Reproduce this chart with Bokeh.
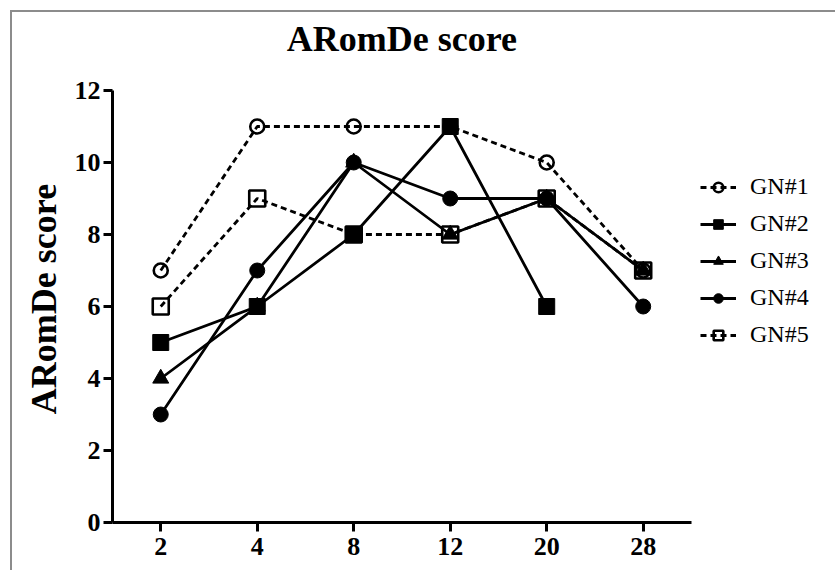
from bokeh.plotting import figure
from bokeh.models import Range1d, Legend, LegendItem, FixedTicker, Label
from bokeh.embed import file_html
from bokeh.resources import INLINE

days = ["2", "4", "8", "12", "20", "28"]
gn1 = [7, 11, 11, 11, 10, 7]
gn2 = [5, 6, 8, 11, 6, float("nan")]
gn3 = [4, 6, 10, 8, 9, 7]
gn4 = [3, 7, 10, 9, 9, 6]
gn5 = [6, 9, 8, 8, 9, 7]
y_ticks = [0, 2, 4, 6, 8, 10, 12]
title_text = "ARomDe score"
y_label = "ARomDe score"

FONT = "Liberation Serif"
xpos = list(range(len(days)))

p = figure(width=825, height=560, x_range=Range1d(-0.5, 6.91),
           y_range=Range1d(0, 14.1667), output_backend="svg", toolbar_location=None,
           min_border_left=100, min_border_top=0, min_border_right=10, min_border_bottom=50)
p.margin = (10, 0, 0, 10)
p.styles = {"border-top": "2px solid #8c8c8c", "border-left": "2px solid #8c8c8c"}

p.outline_line_color = None
p.xgrid.visible = False
p.ygrid.visible = False

for ax in (p.xaxis[0], p.yaxis[0]):
    ax.axis_line_width = 3
    ax.axis_line_color = "black"
    ax.major_tick_line_width = 3
    ax.major_tick_out = 9
    ax.major_tick_in = 0
    ax.minor_tick_line_color = None
    ax.major_label_text_font = FONT
    ax.major_label_text_font_style = "bold"
    ax.major_label_text_font_size = "26px"
    ax.major_label_text_color = "black"

p.xaxis[0].bounds = (-0.5, 5.5)
p.xaxis[0].ticker = FixedTicker(ticks=xpos)
p.xaxis[0].major_label_overrides = {i: d for i, d in zip(xpos, days)}
p.xaxis[0].major_label_standoff = 6

p.yaxis[0].bounds = (0, 12)
p.yaxis[0].ticker = FixedTicker(ticks=y_ticks)
# trailing non-breaking spaces shift the rotated label down to sit beside the 0-12 axis
p.yaxis[0].axis_label = y_label + "\u00a0" * 7
p.yaxis[0].axis_label_text_font = FONT
p.yaxis[0].axis_label_text_font_style = "bold"
p.yaxis[0].axis_label_text_font_size = "36px"
p.yaxis[0].axis_label_text_color = "black"
p.yaxis[0].axis_label_standoff = 8
p.yaxis[0].major_label_standoff = 3

title = Label(x=2.5, y=13.44, text=title_text, text_align="center", text_baseline="middle",
              text_font=FONT, text_font_size="36px", text_font_style="bold", text_color="black")
p.add_layout(title)

series = [
    ("GN#1", gn1, "circle", "6 4", 14, True),
    ("GN#2", gn2, "square", "solid", 16, False),
    ("GN#3", gn3, "triangle", "solid", 16, False),
    ("GN#4", gn4, "circle", "solid", 15, False),
    ("GN#5", gn5, "square", "6 4", 16, True),
]

items = []
for name, vals, marker, dash, size, hollow in series:
    lr = p.line(xpos, vals, line_color="black", line_width=2.8, line_dash=dash)
    if hollow:
        sr = p.scatter(xpos, vals, marker=marker, size=size, line_color="black",
                       line_width=2.6, fill_alpha=0)
    else:
        sr = p.scatter(xpos, vals, marker=marker, size=size, line_color="black",
                       fill_color="black", line_width=1)
    items.append(LegendItem(label=name, renderers=[lr, sr]))

legend = Legend(items=items, location=(588, 174), orientation="vertical")
legend.label_text_font = FONT
legend.label_text_font_size = "24px"
legend.label_text_color = "black"
legend.label_height = 24
legend.glyph_height = 24
legend.glyph_width = 36
legend.spacing = 10
legend.padding = 0
legend.margin = 0
legend.label_standoff = 14
legend.border_line_color = None
legend.background_fill_alpha = 0
p.add_layout(legend, "center")

open("out.html", "w").write(file_html(p, INLINE))
